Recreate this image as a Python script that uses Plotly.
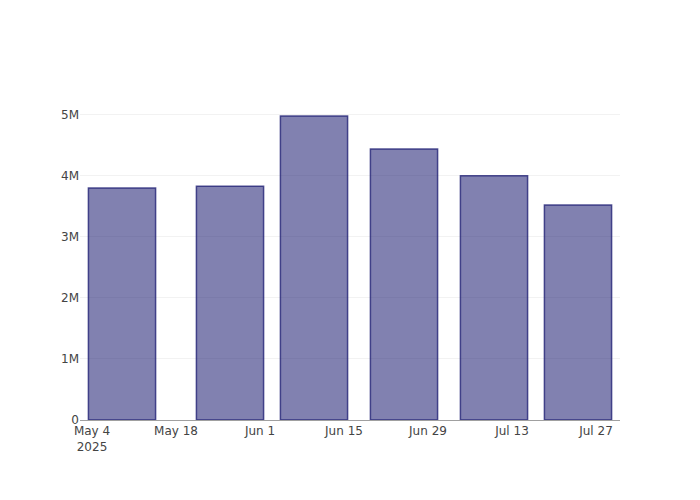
import plotly.graph_objects as go

dates = ["2025-05-09", "2025-05-27", "2025-06-10", "2025-06-25", "2025-07-10", "2025-07-24"]
values = [3800000, 3830000, 4980000, 4440000, 4000000, 3520000]

fig = go.Figure(
    go.Bar(
        x=dates,
        y=values,
        marker=dict(
            color="rgba(25,25,112,0.55)",
            line=dict(color="rgba(25,25,112,0.75)", width=1.5),
        ),
    )
)
fig.update_layout(
    width=700,
    height=500,
    margin=dict(l=72, r=88, t=92, b=88),
    plot_bgcolor="white",
    paper_bgcolor="white",
    showlegend=False,
    font=dict(family="DejaVu Sans", size=12, color="#444"),
)
fig.update_xaxes(showgrid=False, showline=True, linecolor="#a0a0a0", linewidth=1, ticks="")
fig.update_yaxes(showgrid=True, gridcolor="#f2f2f2", zeroline=False, ticks="")
fig.write_html("out.html")
